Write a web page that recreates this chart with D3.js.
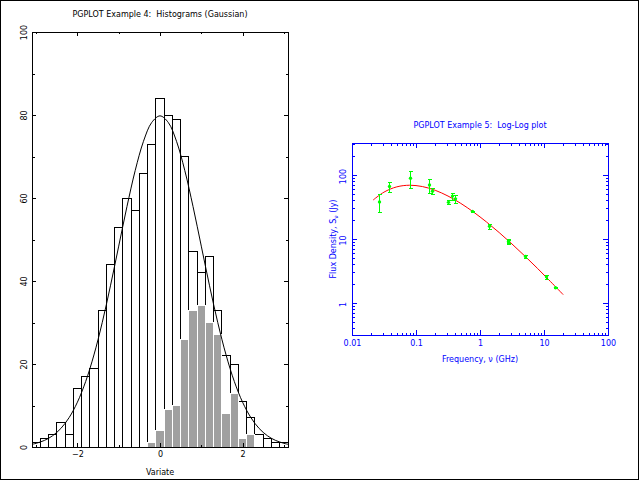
<!DOCTYPE html>
<html><head><meta charset="utf-8">
<script src="https://cdn.jsdelivr.net/npm/d3@7"></script>
<style>
html,body{margin:0;padding:0;background:#fff;}
svg{display:block;font-family:"DejaVu Sans",sans-serif;}
</style></head><body>
<svg id="c" width="640" height="480"></svg>
<script>
// ---------- Example 4: histograms ----------
const binCenters = [-3.0,-2.8,-2.6,-2.4,-2.2,-2.0,-1.8,-1.6,-1.4,-1.2,-1.0,-0.8,-0.6,-0.4,-0.2,0.0,
                    0.2,0.4,0.6,0.8,1.0,1.2,1.4,1.6,1.8,2.0,2.2,2.4,2.6,2.8,3.0];
const binWidth = 0.2;
const allCounts = [1,2,3,6,3,14,17,19,33,44,53,60,57,66,73,84,80,79,70,47,42,46,33,22,20,11,7,3,2,1,1];
const subCounts = [0,0,0,0,0,0,0,0,0,0,0,0,0,0,1,4,9,10,26,33,34,30,27,8,13,2,3,0,0,0,0];
const gaussX = [-3.1,-3.0,-2.8,-2.6,-2.4,-2.2,-2.0,-1.8,-1.6,-1.4,-1.2,-1.0,-0.8,-0.6,-0.4,-0.2,0.0,
                0.2,0.4,0.6,0.8,1.0,1.2,1.4,1.6,1.8,2.0,2.2,2.4,2.6,2.8,3.0,3.1];
const gaussY = [0.65,0.89,1.58,2.72,4.48,7.10,10.80,15.79,22.18,29.95,38.84,48.40,57.94,66.65,73.66,78.21,79.79,
                78.21,73.66,66.65,57.94,48.40,38.84,29.95,22.18,15.79,10.80,7.10,4.48,2.72,1.58,0.89,0.65];
const histXTicks = [-2,0,2];
const histXMinor = [-3,-1,1,3];
const histYTicks = [0,20,40,60,80,100];
const histYMinor = [10,30,50,70,90];

// ---------- Example 5: log-log ----------
const freqGHz = [0.026,0.038,0.080,0.160,0.178,0.318,0.365,0.408,0.750,1.400,2.695,2.700,5.000,10.695,14.900];
const fluxJy  = [38.0,66.4,89.0,69.8,55.9,37.4,46.8,42.4,27.0,15.8,9.09,9.17,5.35,2.56,1.73];
const fluxErr = [6.0,6.0,13.0,9.1,2.9,1.4,2.7,3.0,0.34,0.8,0.2,0.46,0.15,0.08,0.01];
const fitFreq = [0.02138,0.03162,0.05012,0.07943,0.1259,0.1995,0.3162,0.5012,0.7943,1.259,1.995,3.162,5.012,7.943,12.59,19.95];
const fitFlux = [40.6,54.0,65.3,69.2,66.0,57.7,46.9,36.0,26.3,18.5,12.6,8.35,5.42,3.46,2.17,1.35];
const logXTicks = [0.01,0.1,1,10,100];
const logXLabels = ["0.01","0.1","1","10","100"];
const logYTicks = [1,10,100];
const logYLabels = ["1","10","100"];

const svg = d3.select("#c");
const FONT = 8;

// outer frame
svg.append("rect").attr("x",0.5).attr("y",0.5).attr("width",638).attr("height",479)
  .attr("fill","none").attr("stroke","#000").attr("shape-rendering","crispEdges");

// ===== Left plot =====
const xL = d3.scaleLinear().domain([-3.1,3.1]).range([32,288]);
const yL = d3.scaleLinear().domain([0,100]).range([447,32]);
const gL = svg.append("g");

const bins = binCenters.map((c,i)=>({c, n:allCounts[i], s:subCounts[i]}));
gL.append("g").selectAll("rect").data(bins.filter(d=>d.n>0)).join("rect")
  .attr("x",d=>xL(d.c-binWidth/2)).attr("width",d=>xL(d.c+binWidth/2)-xL(d.c-binWidth/2))
  .attr("y",d=>yL(d.n)).attr("height",d=>yL(0)-yL(d.n))
  .attr("fill","none").attr("stroke","#000").attr("stroke-width",1).attr("shape-rendering","crispEdges");
gL.append("g").selectAll("rect").data(bins.filter(d=>d.s>0)).join("rect")
  .attr("x",d=>xL(d.c-binWidth/2)).attr("width",d=>xL(d.c+binWidth/2)-xL(d.c-binWidth/2))
  .attr("y",d=>yL(d.s)).attr("height",d=>yL(0)-yL(d.s))
  .attr("fill","#a0a0a0").attr("stroke","#fff").attr("stroke-width",1).attr("shape-rendering","crispEdges");

const gline = d3.line().x((d,i)=>xL(gaussX[i])).y(d=>yL(d)).curve(d3.curveCatmullRom);
gL.append("path").attr("d",gline(gaussY)).attr("fill","none").attr("stroke","#000").attr("stroke-width",1);

// box
gL.append("rect").attr("x",xL(-3.1)).attr("y",yL(100)).attr("width",xL(3.1)-xL(-3.1)).attr("height",yL(0)-yL(100))
  .attr("fill","none").attr("stroke","#000").attr("shape-rendering","crispEdges");

function styleAxis(g, color){
  g.attr("font-size",FONT).attr("font-family","DejaVu Sans, sans-serif").style("color",color);
  g.select(".domain").remove();
  g.selectAll("line").attr("shape-rendering","crispEdges");
}
// bottom
gL.append("g").attr("transform",`translate(0,${yL(0)})`)
  .call(d3.axisBottom(xL).tickValues(histXTicks).tickSize(-4).tickFormat(d3.format("d")))
  .call(g=>styleAxis(g,"#000"))
  .call(g=>g.selectAll("text").attr("y",10).attr("dy",0).text(d=>d<0?"\u2212"+Math.abs(d):d));
gL.append("g").attr("transform",`translate(0,${yL(0)})`)
  .call(d3.axisBottom(xL).tickValues(histXMinor).tickSize(-2).tickFormat(""))
  .call(g=>styleAxis(g,"#000"));
// top
gL.append("g").attr("transform",`translate(0,${yL(100)})`)
  .call(d3.axisTop(xL).tickValues(histXTicks).tickSize(-4).tickFormat(""))
  .call(g=>styleAxis(g,"#000"));
gL.append("g").attr("transform",`translate(0,${yL(100)})`)
  .call(d3.axisTop(xL).tickValues(histXMinor).tickSize(-2).tickFormat(""))
  .call(g=>styleAxis(g,"#000"));
// left
gL.append("g").attr("transform",`translate(${xL(-3.1)},0)`)
  .call(d3.axisLeft(yL).tickValues(histYTicks).tickSize(-4))
  .call(g=>styleAxis(g,"#000"))
  .call(g=>g.selectAll("text").attr("x",0).attr("y",-5).attr("dy",0)
        .attr("text-anchor","middle").attr("transform","rotate(-90)"));
gL.append("g").attr("transform",`translate(${xL(-3.1)},0)`)
  .call(d3.axisLeft(yL).tickValues(histYMinor).tickSize(-2.5).tickFormat(""))
  .call(g=>styleAxis(g,"#000"));
// right
gL.append("g").attr("transform",`translate(${xL(3.1)},0)`)
  .call(d3.axisRight(yL).tickValues(histYTicks).tickSize(-4).tickFormat(""))
  .call(g=>styleAxis(g,"#000"));
gL.append("g").attr("transform",`translate(${xL(3.1)},0)`)
  .call(d3.axisRight(yL).tickValues(histYMinor).tickSize(-2.5).tickFormat(""))
  .call(g=>styleAxis(g,"#000"));

gL.append("text").attr("x",160).attr("y",16.5).attr("text-anchor","middle").attr("font-size",FONT)
  .attr("xml:space","preserve").style("white-space","pre")
  .text("PGPLOT Example 4:  Histograms (Gaussian)");
gL.append("text").attr("x",160).attr("y",475).attr("text-anchor","middle").attr("font-size",FONT).text("Variate");

// ===== Right plot =====
const BLUE = "#0000ff";
const xR = d3.scaleLog().domain([0.01,100]).range([352,608]);
const yR = d3.scaleLog().domain([0.31623,316.23]).range([335,143]);
const gR = svg.append("g");

gR.append("rect").attr("x",352).attr("y",143).attr("width",256).attr("height",192)
  .attr("fill","none").attr("stroke",BLUE).attr("shape-rendering","crispEdges");

const xMinor = [], yMinor = [];
[0.01,0.1,1,10].forEach(dec=>{ for(let m=2;m<=9;m++) xMinor.push(dec*m); });
[0.1,1,10,100].forEach(dec=>{ for(let m=2;m<=9;m++){ const v=dec*m; if(v>=0.31623 && v<=316.23) yMinor.push(v);} });

gR.append("g").attr("transform","translate(0,335)")
  .call(d3.axisBottom(xR).tickValues(logXTicks).tickSize(-5).tickFormat((d,i)=>logXLabels[i]))
  .call(g=>styleAxis(g,BLUE))
  .call(g=>g.selectAll("text").attr("y",11).attr("dy",0));
gR.append("g").attr("transform","translate(0,335)")
  .call(d3.axisBottom(xR).tickValues(xMinor).tickSize(-2.5).tickFormat(""))
  .call(g=>styleAxis(g,BLUE));
gR.append("g").attr("transform","translate(0,143)")
  .call(d3.axisTop(xR).tickValues(logXTicks).tickSize(-5).tickFormat(""))
  .call(g=>styleAxis(g,BLUE));
gR.append("g").attr("transform","translate(0,143)")
  .call(d3.axisTop(xR).tickValues(xMinor).tickSize(-2.5).tickFormat(""))
  .call(g=>styleAxis(g,BLUE));
gR.append("g").attr("transform","translate(352,0)")
  .call(d3.axisLeft(yR).tickValues(logYTicks).tickSize(-5).tickFormat((d,i)=>logYLabels[i]))
  .call(g=>styleAxis(g,BLUE))
  .call(g=>g.selectAll("text").attr("x",-1).attr("y",-6).attr("dy",0)
        .attr("text-anchor","middle").attr("transform","rotate(-90)"));
gR.append("g").attr("transform","translate(352,0)")
  .call(d3.axisLeft(yR).tickValues(yMinor).tickSize(-2.5).tickFormat(""))
  .call(g=>styleAxis(g,BLUE));
gR.append("g").attr("transform","translate(608,0)")
  .call(d3.axisRight(yR).tickValues(logYTicks).tickSize(-5).tickFormat(""))
  .call(g=>styleAxis(g,BLUE));
gR.append("g").attr("transform","translate(608,0)")
  .call(d3.axisRight(yR).tickValues(yMinor).tickSize(-2.5).tickFormat(""))
  .call(g=>styleAxis(g,BLUE));

// fit curve
const fline = d3.line().x((d,i)=>xR(fitFreq[i])).y(d=>yR(d)).curve(d3.curveCatmullRom);
gR.append("path").attr("d",fline(fitFlux)).attr("fill","none").attr("stroke","#ff0000").attr("stroke-width",1);

// data with error bars
const pts = freqGHz.map((f,i)=>({f, s:fluxJy[i], e:fluxErr[i]}));
const GREEN = "#00ff00";
const eb = gR.append("g").attr("stroke",GREEN).attr("stroke-width",1).attr("shape-rendering","crispEdges");
pts.forEach(d=>{
  const x = Math.round(xR(d.f))+0.5, y1 = yR(d.s+2*d.e), y0 = yR(d.s-2*d.e);
  eb.append("line").attr("x1",x).attr("x2",x).attr("y1",y1).attr("y2",y0);
  eb.append("line").attr("x1",x-2).attr("x2",x+2).attr("y1",Math.round(y1)+0.5).attr("y2",Math.round(y1)+0.5);
  eb.append("line").attr("x1",x-2).attr("x2",x+2).attr("y1",Math.round(y0)+0.5).attr("y2",Math.round(y0)+0.5);
});
gR.append("g").selectAll("circle").data(pts).join("circle")
  .attr("cx",d=>Math.round(xR(d.f))+0.5).attr("cy",d=>yR(d.s)).attr("r",1.7).attr("fill",GREEN);

// titles and labels
gR.append("text").attr("x",480).attr("y",127.5).attr("text-anchor","middle").attr("font-size",FONT)
  .attr("fill",BLUE).attr("xml:space","preserve").style("white-space","pre")
  .text("PGPLOT Example 5:  Log-Log plot");
gR.append("text").attr("x",480).attr("y",361.5).attr("text-anchor","middle").attr("font-size",FONT)
  .attr("fill",BLUE).text("Frequency, \u03bd (GHz)");
const yt = gR.append("text").attr("transform","translate(335.5,239) rotate(-90)").attr("text-anchor","middle")
  .attr("font-size",FONT).attr("fill",BLUE);
yt.append("tspan").text("Flux Density, S");
yt.append("tspan").attr("dy",2).attr("font-size",6).text("\u03bd");
yt.append("tspan").attr("dy",-2).text(" (Jy)");
</script>
</body></html>
